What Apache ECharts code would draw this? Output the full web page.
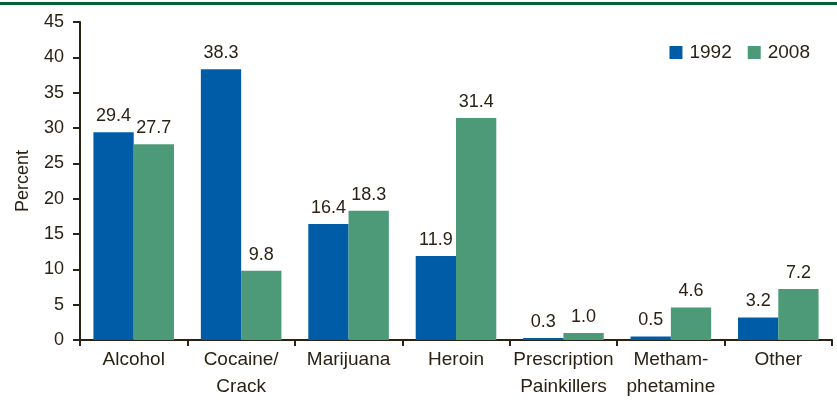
<!DOCTYPE html>
<html><head><meta charset="utf-8">
<script src="https://cdn.jsdelivr.net/npm/echarts@6/dist/echarts.min.js"></script>
<style>html,body{margin:0;padding:0;background:#fff}#c{width:837px;height:400px}</style>
</head><body><div id="c"></div>
<script>
const categories = ['Alcohol', 'Cocaine/\nCrack', 'Marijuana', 'Heroin', 'Prescription\nPainkillers', 'Metham-\nphetamine', 'Other'];
const values1992 = [29.4, 38.3, 16.4, 11.9, 0.3, 0.5, 3.2];
const values2008 = [27.7, 9.8, 18.3, 31.4, 1.0, 4.6, 7.2];
const yTicks = [0, 5, 10, 15, 20, 25, 30, 35, 40, 45];

const txt = '#2b2216', axisCol = '#2b2216';
const font = 'Liberation Sans';
const chart = echarts.init(document.getElementById('c'), null, {renderer: 'canvas'});
chart.setOption({
  animation: false,
  textStyle: {fontFamily: font},
  graphic: [{type: 'rect', shape: {x: 0, y: 2, width: 837, height: 3}, style: {fill: '#046235'}}],
  legend: {
    right: 22, top: 38, itemWidth: 13, itemHeight: 13, itemGap: 16,
    textStyle: {fontSize: 19, color: txt, fontFamily: font, padding: [0, 0, 0, 2]},
    icon: 'rect',
    data: ['1992', '2008']
  },
  grid: {left: 80, right: 5, top: 22, bottom: 57},
  xAxis: {
    type: 'category', data: categories,
    axisLine: {lineStyle: {color: axisCol, width: 2}},
    axisTick: {show: true, length: 6, lineStyle: {color: axisCol, width: 2}},
    axisLabel: {interval: 0, fontSize: 19, color: txt, lineHeight: 27, margin: 6, fontFamily: font}
  },
  yAxis: {
    type: 'value', min: yTicks[0], max: yTicks[yTicks.length - 1], interval: 5,
    name: 'Percent', nameLocation: 'middle', nameGap: 48, nameRotate: 90,
    nameTextStyle: {fontSize: 18, color: txt, fontFamily: font},
    axisLine: {show: true, lineStyle: {color: axisCol, width: 2}},
    axisTick: {show: true, length: 7, lineStyle: {color: axisCol, width: 2}},
    splitLine: {show: false},
    axisLabel: {fontSize: 18, color: txt, margin: 16, fontFamily: font}
  },
  series: [
    {name: '1992', type: 'bar', data: values1992, barGap: '0%', barCategoryGap: '25%',
     itemStyle: {color: '#015ca8'},
     label: {show: true, position: 'top', fontSize: 18, color: txt, distance: 7, fontFamily: font,
             formatter: p => p.value.toFixed(1)}},
    {name: '2008', type: 'bar', data: values2008,
     itemStyle: {color: '#4d9a79'},
     label: {show: true, position: 'top', fontSize: 18, color: txt, distance: 7, fontFamily: font,
             formatter: p => p.value.toFixed(1)}}
  ]
});
</script></body></html>
